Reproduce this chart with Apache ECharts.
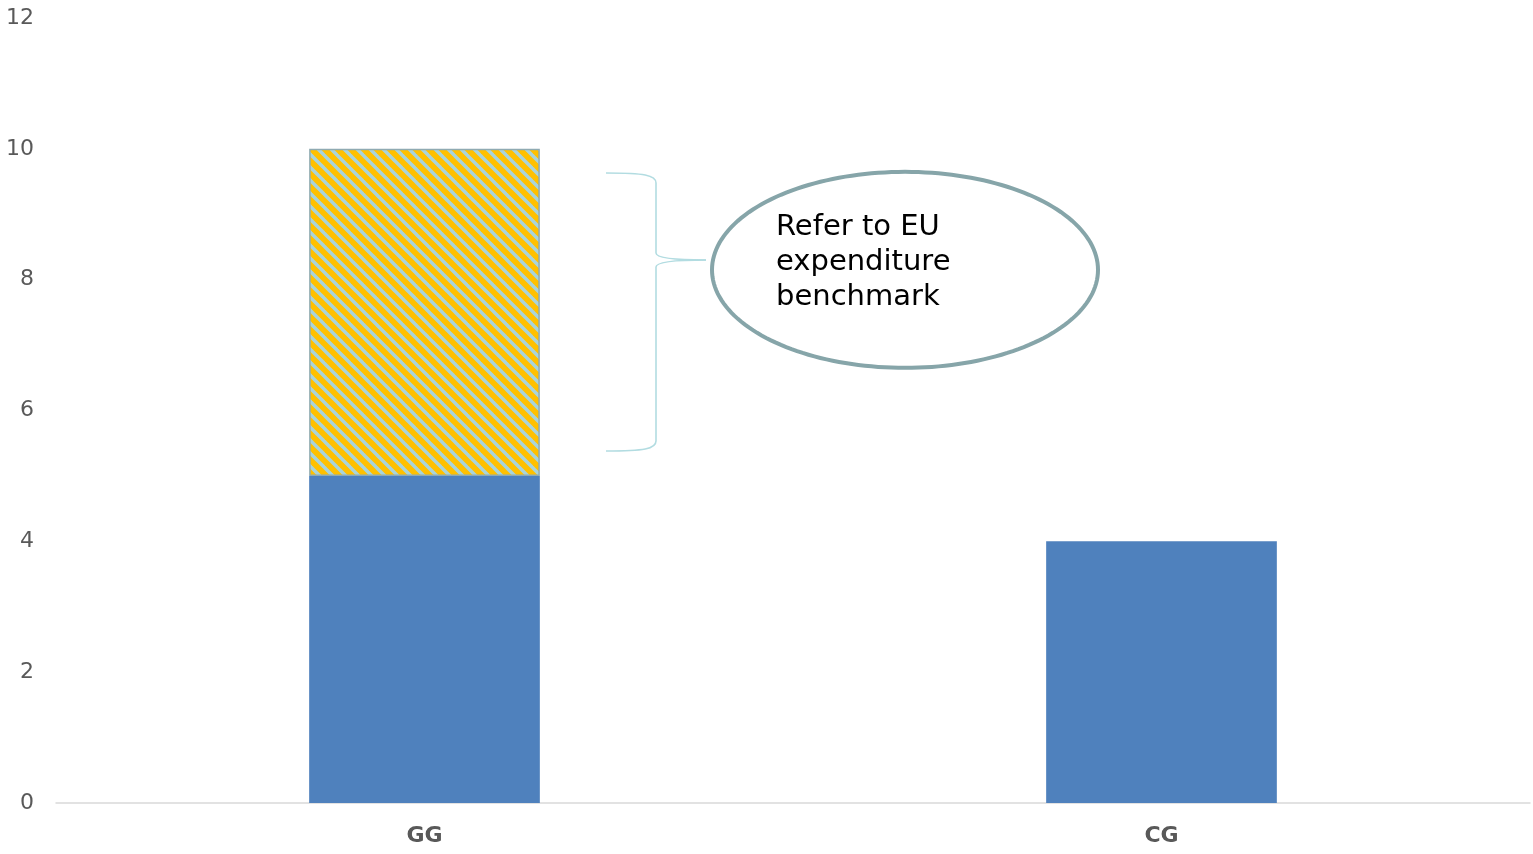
<!DOCTYPE html>
<html>
<head>
<meta charset="utf-8">
<script src="https://cdn.jsdelivr.net/npm/echarts@6/dist/echarts.min.js"></script>
<style>
  html, body { margin: 0; padding: 0; background: #fff; }
  #chart { width: 1533px; height: 854px; }
</style>
</head>
<body>
<div id="chart"></div>
<script>
// data
const categories = ['GG', 'CG']
const baseValues = [5, 4]
const benchmarkValues = [5, '-']
const yTicks = [0, 2, 4, 6, 8, 10, 12]
const noteText = 'Refer to EU\nexpenditure\nbenchmark'

// diagonal hatch tile (yellow with light blue stripes)
function makeHatch() {
  const s = 13
  const c = document.createElement('canvas')
  c.width = s
  c.height = s
  const ctx = c.getContext('2d')
  ctx.fillStyle = '#FFC000'
  ctx.fillRect(0, 0, s, s)
  ctx.strokeStyle = '#A9D4DB'
  ctx.lineWidth = 3.4
  for (let k = -1; k <= 1; k++) {
    ctx.beginPath()
    ctx.moveTo(k * s - 2, -2)
    ctx.lineTo(k * s + s + 2, s + 2)
    ctx.stroke()
  }
  return c
}

const chart = echarts.init(document.getElementById('chart'))
const options = {
  animation: false,
  textStyle: { fontFamily: 'DejaVu Sans' },
  grid: { left: 56, right: 3, top: 18, bottom: 51 },
  xAxis: {
    type: 'category',
    data: categories,
    axisLine: { lineStyle: { color: '#D9D9D9', width: 1.5 } },
    axisTick: { show: false },
    axisLabel: { color: '#595959', fontSize: 22, fontWeight: 'bold', margin: 22 }
  },
  yAxis: {
    type: 'value',
    min: yTicks[0],
    max: yTicks[yTicks.length - 1],
    interval: 2,
    splitLine: { show: false },
    axisLine: { show: false },
    axisTick: { show: false },
    axisLabel: { color: '#595959', fontSize: 22, margin: 22 }
  },
  series: [
    {
      name: 'base',
      type: 'bar',
      stack: 'total',
      barWidth: '31.3%',
      itemStyle: { color: '#4F81BD' },
      data: baseValues
    },
    {
      name: 'benchmark',
      type: 'bar',
      stack: 'total',
      barWidth: '31.3%',
      itemStyle: {
        color: { image: makeHatch(), repeat: 'repeat' },
        borderColor: '#8FAAB2',
        borderWidth: 1.5
      },
      data: benchmarkValues
    }
  ]
}
chart.setOption(options)

// annotation: brace + ellipse, anchored to the y axis
const toY = v => chart.convertToPixel({ yAxisIndex: 0 }, v)
const yTop = toY(9.63)
const yBot = toY(5.38)
const yMid = toY(8.3)
const yEll = toY(8.15)
const bx = 606
const bm = 656
const tip = 706
const braceStyle = { stroke: '#B2DCE1', lineWidth: 1.6, fill: null }
const ellCx = 905
const ellRx = 193
const ellRy = 98

function curve(x1, y1, cx1, cy1, cx2, cy2, x2, y2) {
  return {
    type: 'bezierCurve',
    shape: { x1, y1, cpx1: cx1, cpy1: cy1, cpx2: cx2, cpy2: cy2, x2, y2 },
    style: braceStyle,
    z: 10
  }
}
function seg(x1, y1, x2, y2) {
  return { type: 'line', shape: { x1, y1, x2, y2 }, style: braceStyle, z: 10 }
}

// ellipse outline as a polygon so the stroke keeps an even width
const ellPoints = []
for (let i = 0; i < 180; i++) {
  const a = (i / 180) * Math.PI * 2
  ellPoints.push([ellCx + ellRx * Math.cos(a), yEll + ellRy * Math.sin(a)])
}

chart.setOption({
  graphic: [
    curve(bx, yTop, bm - 12, yTop, bm, yTop + 2, bm, yTop + 10),
    seg(bm, yTop + 10, bm, yMid - 7),
    curve(bm, yMid - 7, bm, yMid - 1, bm + 25, yMid, tip, yMid),
    curve(tip, yMid, bm + 25, yMid, bm, yMid + 1, bm, yMid + 7),
    seg(bm, yMid + 7, bm, yBot - 10),
    curve(bm, yBot - 10, bm, yBot - 2, bm - 12, yBot, bx, yBot),
    {
      type: 'polygon',
      shape: { points: ellPoints },
      style: { fill: '#fff', stroke: '#86A5A9', lineWidth: 4 },
      z: 11
    },
    {
      type: 'text',
      x: 776,
      y: yEll - 60,
      style: {
        text: noteText,
        fill: '#000',
        font: '29px "DejaVu Sans"',
        lineHeight: 35,
        verticalAlign: 'top'
      },
      z: 12
    }
  ]
})
</script>
</body>
</html>
